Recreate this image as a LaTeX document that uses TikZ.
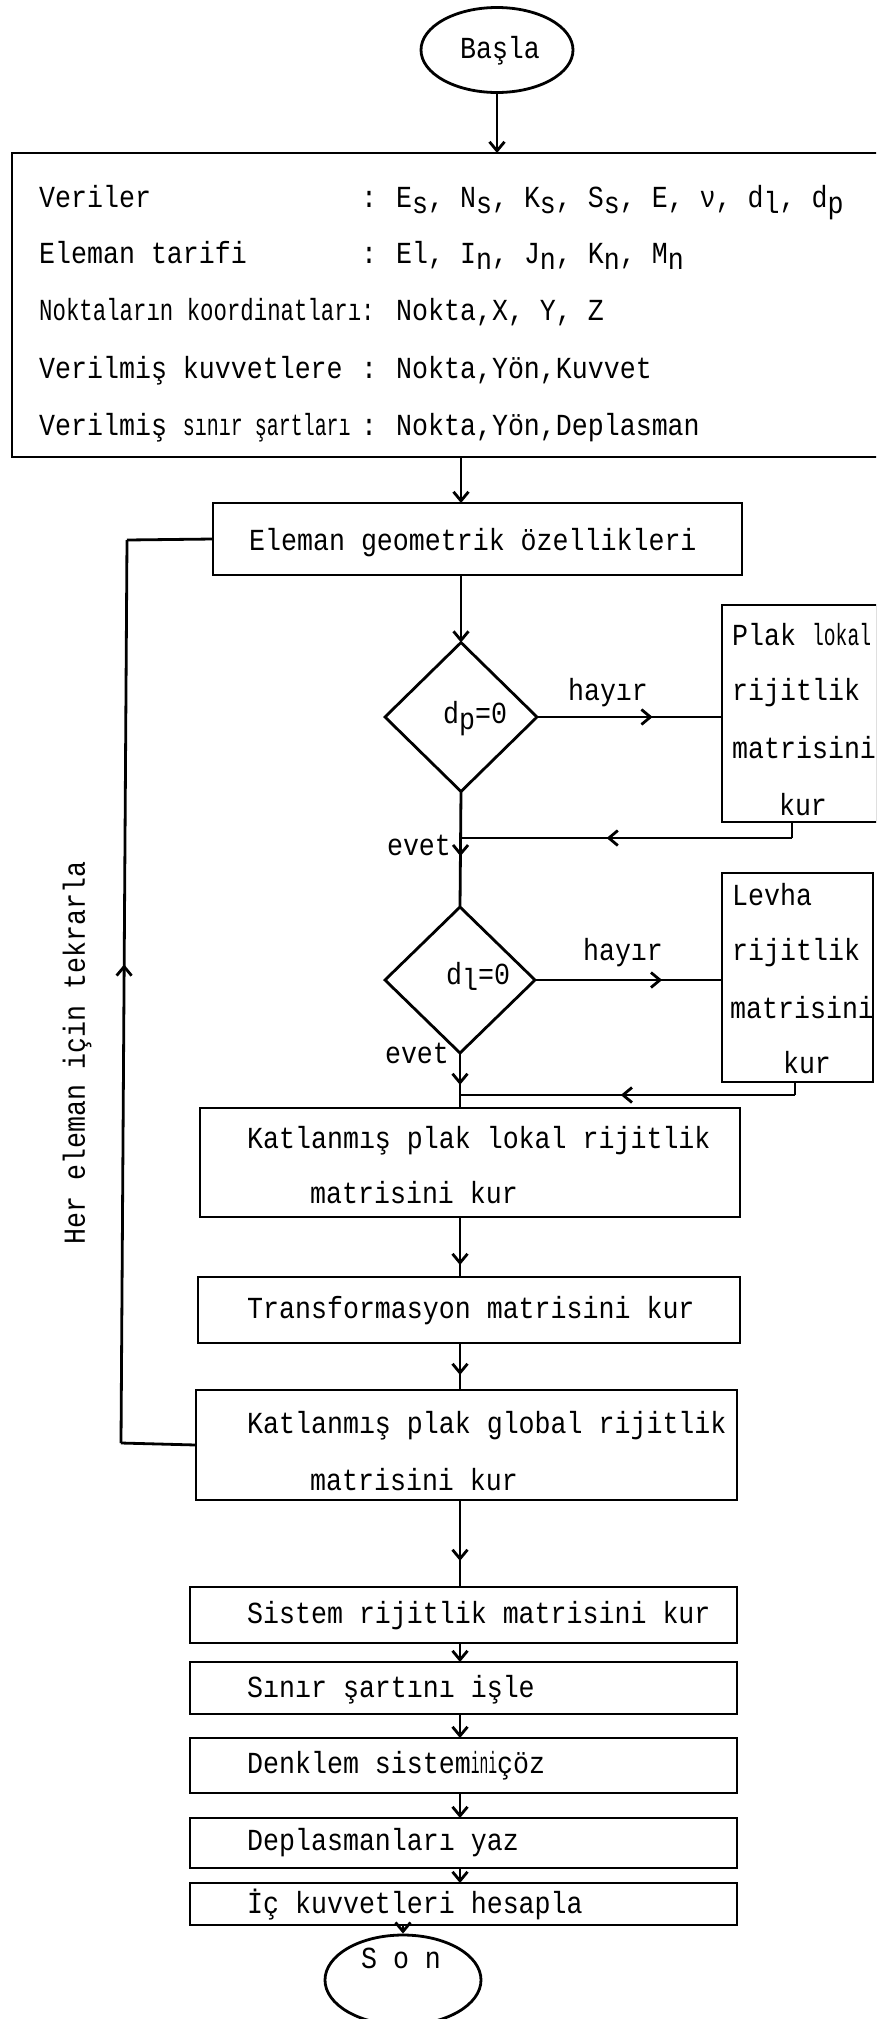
\documentclass[tikz,border=0pt]{standalone}
\usepackage{fontspec}
\setmainfont[FakeStretch=0.87]{Liberation Mono}
\usetikzlibrary{shapes.geometric,arrows.meta,decorations.markings}
\newcommand\lowsub[1]{\raisebox{-0.4ex}{#1}}
\tikzset{
  ln/.style={line width=2.8pt},
  arr/.style={ln,-{Straight Barb[length=9pt,width=15pt]}},
  midarr/.style={ln,postaction={decorate},decoration={markings,mark=at position #1 with {\arrow{Straight Barb[length=9pt,width=15pt]}}}},
  box/.style={draw,ln,rectangle,inner sep=0pt,outer sep=0pt},
  txt/.style={anchor=base west,inner sep=0pt},
  ctxt/.style={anchor=base,inner sep=0pt},
}
\begin{document}
\begin{tikzpicture}[x=1pt,y=-1pt,font=\fontsize{30.6}{36}\selectfont]
\useasboundingbox (0,0) rectangle (876,2019);
\clip (0,0) rectangle (876,2019);

% start
\node[ellipse,draw,ln,minimum width=152pt,minimum height=85pt,inner sep=0pt] (start) at (497,50) {};
\node[ctxt] (starttxt) at (500,58) {Başla};

% data box
\node[box,minimum width=878pt,minimum height=304pt] (big) at (451,305) {};
\node[txt] (l1a) at (39,207) {Veriler};
\node[txt] (l1b) at (361,207) {:};
\node[txt] (l1c) at (396,207) {E\lowsub{s}, N\lowsub{s}, K\lowsub{s}, S\lowsub{s}, E, ν, d\lowsub{l}, d\lowsub{p}};
\node[txt] (l2a) at (39,263) {Eleman tarifi};
\node[txt] (l2b) at (361,263) {:};
\node[txt] (l2c) at (396,263) {El, I\lowsub{n}, J\lowsub{n}, K\lowsub{n}, M\lowsub{n}};
\node[txt] (l3a) at (39,320) {\scalebox{0.84}[1]{Noktaların koordinatları:}};
\node[txt] (l3c) at (396,320) {Nokta,X, Y, Z};
\node[txt] (l4a) at (39,378) {Verilmiş kuvvetlere};
\node[txt] (l4b) at (361,378) {:};
\node[txt] (l4c) at (396,378) {Nokta,Yön,Kuvvet};
\node[txt] (l5a) at (39,435) {Verilmiş \scalebox{0.75}[1]{sınır şartları}};
\node[txt] (l5b) at (361,435) {:};
\node[txt] (l5c) at (396,435) {Nokta,Yön,Deplasman};

% element geometry
\node[box,minimum width=529pt,minimum height=72pt] (elem) at (477.5,539) {};
\node[txt] (elemtxt) at (249,550) {Eleman geometrik özellikleri};

% decision 1
\node[diamond,draw,ln,minimum width=152pt,minimum height=149pt,inner sep=0pt,outer sep=0pt] (d1) at (461,717) {};
\node[txt] (d1txt) at (443,723) {d\lowsub{p}=0};
\node[box,minimum width=155pt,minimum height=217pt] (side1) at (799.5,713.5) {};
\node[txt] (s1a) at (732,645) {Plak \scalebox{0.74}[1]{lokal}};
\node[txt] (s1b) at (732,700) {rijitlik};
\node[txt] (s1c) at (732,758) {matrisini};
\node[ctxt] (s1d) at (803,815) {kur};
\node[ctxt] (h1) at (608,700) {hayır};
\node[ctxt] (e1) at (419,855) {evet};
\coordinate (r1) at (792,838);

% decision 2
\node[diamond,draw,ln,minimum width=150pt,minimum height=146pt,inner sep=0pt,outer sep=0pt] (d2) at (460,980) {};
\node[txt] (d2txt) at (446,984) {d\lowsub{l}=0};
\node[box,minimum width=151pt,minimum height=209pt] (side2) at (797.5,977.5) {};
\node[txt] (s2a) at (732,905) {Levha};
\node[txt] (s2b) at (732,960) {rijitlik};
\node[txt] (s2c) at (730,1018) {matrisini};
\node[ctxt] (s2d) at (807,1073) {kur};
\node[ctxt] (h2) at (623,960) {hayır};
\node[ctxt] (e2) at (417,1063) {evet};
\coordinate (r2) at (795,1095);

% main boxes
\node[box,minimum width=540pt,minimum height=109pt] (kl) at (470,1162.5) {};
\node[txt] (kla) at (247,1148) {Katlanmış plak lokal rijitlik};
\node[txt] (klb) at (310,1203) {matrisini kur};
\node[box,minimum width=542pt,minimum height=66pt] (tr) at (469,1310) {};
\node[txt] (trt) at (247,1318) {Transformasyon matrisini kur};
\node[box,minimum width=541pt,minimum height=110pt] (gl) at (466.5,1445) {};
\node[txt] (gla) at (247,1433) {Katlanmış plak global rijitlik};
\node[txt] (glb) at (310,1490) {matrisini kur};
\node[box,minimum width=547pt,minimum height=56pt] (sis) at (463.5,1615) {};
\node[txt] (sist) at (247,1623) {Sistem rijitlik matrisini kur};
\node[box,minimum width=547pt,minimum height=52pt] (sin) at (463.5,1688) {};
\node[txt] (sint) at (247,1697) {Sınır şartını işle};
\node[box,minimum width=547pt,minimum height=55pt] (den) at (463.5,1765.5) {};
\node[txt] (dent) at (247,1773) {Denklem sistem\scalebox{0.55}[1]{ini}çöz};
\node[box,minimum width=547pt,minimum height=50pt] (dep) at (463.5,1843) {};
\node[txt] (dept) at (247,1850) {Deplasmanları yaz};
\node[box,minimum width=547pt,minimum height=42pt] (ic) at (463.5,1904) {};
\node[txt] (ict) at (247,1913) {İç kuvvetleri hesapla};
\node[ellipse,draw,ln,minimum width=156pt,minimum height=90pt,inner sep=0pt] (son) at (403,1980) {};
\node[ctxt] (sont) at (401,1968) {S o n};

% loop
\coordinate (lb) at (121,1443);
\coordinate (lt) at (127,540);
\node[rotate=90,inner sep=0pt] (rep) at (77,1053) {Her eleman için tekrarla};

% connectors
\draw[arr] (start.south) -- (start.south |- big.north);
\draw[arr] (big.south -| d1.north) -- (elem.north -| d1.north);
\draw[arr] (elem.south -| d1.north) -- (d1.north);
\draw[midarr=0.56] (d1.south) -- (d2.north);
\draw[midarr=0.625] (d1.east) -- (side1.west |- d1.east);
\draw[ln] (r1 |- side1.south) -- (r1);
\draw[midarr=0.56] (r1) -- (r1 -| d1.south);
\draw[midarr=0.58] (d2.south) -- (kl.north -| d2.south);
\draw[midarr=0.68] (d2.east) -- (side2.west |- d2.east);
\draw[ln] (r2 |- side2.south) -- (r2);
\draw[midarr=0.52] (r2) -- (r2 -| d2.south);
\draw[midarr=0.8] (kl.south -| d2.south) -- (tr.north -| d2.south);
\draw[midarr=0.68] (tr.south -| d2.south) -- (gl.north -| d2.south);
\draw[midarr=0.7] (gl.south -| d2.south) -- (sis.north -| d2.south);
\draw[arr] (sis.south -| d2.south) -- (sin.north -| d2.south);
\draw[arr] (sin.south -| d2.south) -- (den.north -| d2.south);
\draw[arr] (den.south -| d2.south) -- (dep.north -| d2.south);
\draw[arr] (dep.south -| d2.south) -- (ic.north -| d2.south);
\draw[arr] (ic.south -| son.north) -- (son.north);
\draw[ln] (gl.west) -- (lb);
\draw[midarr=0.53] (lb) -- (lt);
\draw[ln] (lt) -- (elem.west);
\end{tikzpicture}
\end{document}
